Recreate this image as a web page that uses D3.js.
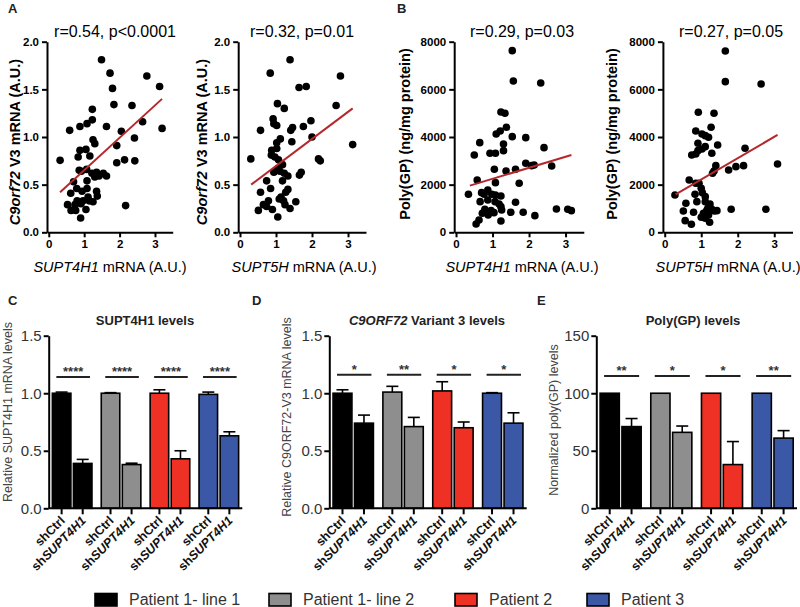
<!DOCTYPE html>
<html><head><meta charset="utf-8">
<script src="https://cdn.jsdelivr.net/npm/d3@7/dist/d3.min.js"></script>
<style>
body{margin:0;background:#fff;}
svg{display:block;font-family:'Liberation Sans',Arial,Helvetica,sans-serif;}
</style></head><body>
<svg id="chart" width="800" height="607"></svg>
<script>
// ---------- DATA ----------
const scatterA1 = [[0.32,0.755],[0.59,1.07],[0.88,1.11],[1.08,1.14],[1.49,1.81],[1.73,1.67],[1.80,1.51],[1.84,1.34],[2.77,1.64],[3.13,1.53],[3.20,1.09],[2.35,1.33],[2.65,1.16],[2.42,0.99],[2.05,1.06],[1.92,0.91],[1.92,0.73],[2.14,0.76],[2.43,0.75],[2.17,0.28],[1.63,1.11],[1.23,1.29],[1.23,1.18],[1.25,0.97],[1.30,0.93],[0.88,0.86],[1.05,0.87],[0.83,0.79],[1.16,0.80],[0.86,0.65],[0.92,0.64],[1.07,0.66],[1.22,0.62],[1.35,0.63],[1.30,0.58],[1.42,0.59],[1.54,0.62],[1.63,0.59],[0.70,0.53],[1.08,0.54],[0.79,0.46],[1.08,0.46],[0.62,0.41],[0.94,0.43],[1.35,0.43],[1.37,0.38],[1.11,0.37],[0.80,0.33],[0.97,0.33],[1.14,0.33],[1.25,0.32],[0.53,0.29],[0.74,0.29],[0.91,0.30],[0.63,0.23],[0.76,0.23],[1.05,0.24],[0.90,0.15]];
const scatterA2 = [[1.39,1.81],[0.84,1.67],[1.64,1.52],[1.84,1.53],[2.79,1.64],[2.67,1.33],[3.13,0.92],[1.04,1.35],[1.23,1.30],[0.57,1.07],[0.92,1.19],[0.94,1.14],[1.02,1.12],[1.46,1.10],[1.41,1.07],[1.76,1.11],[1.97,1.17],[2.00,1.00],[1.44,0.95],[1.12,0.98],[1.02,0.94],[1.02,0.88],[0.88,0.86],[0.87,0.81],[0.97,0.79],[1.07,0.76],[1.18,0.71],[1.05,0.67],[0.94,0.63],[1.11,0.64],[1.23,0.62],[1.33,0.59],[1.70,0.63],[1.65,0.60],[2.18,0.77],[2.23,0.75],[0.30,0.77],[0.74,0.54],[1.18,0.54],[0.85,0.46],[0.57,0.42],[1.33,0.45],[1.27,0.42],[1.14,0.37],[1.09,0.35],[1.21,0.33],[1.55,0.32],[0.79,0.33],[0.65,0.29],[0.74,0.27],[0.90,0.24],[0.51,0.23],[1.25,0.29],[1.39,0.25],[1.05,0.16]];
const scatterB1 = [[1.54,7625],[1.57,6351],[2.32,6268],[1.23,5050],[1.34,4994],[1.38,4407],[1.21,4253],[1.10,4127],[1.54,4015],[1.91,3973],[2.41,3553],[0.65,3763],[0.93,3315],[1.08,3315],[1.30,3707],[1.30,3427],[0.50,3245],[1.05,2644],[1.37,2574],[1.63,2644],[1.91,2896],[2.07,2798],[2.14,2826],[2.62,2784],[0.58,2196],[1.08,2084],[1.73,2056],[0.34,1595],[0.70,1665],[0.77,1595],[0.87,1777],[0.98,1595],[1.08,1567],[1.23,1525],[0.87,1357],[1.07,1287],[0.66,1287],[1.18,1189],[1.63,1259],[1.23,1077],[1.25,937],[0.79,965],[0.96,909],[0.72,797],[0.88,727],[1.04,825],[1.50,839],[1.84,839],[2.16,699],[2.75,979],[3.06,965],[3.16,909],[1.23,476],[0.63,518],[0.55,350]];
const scatterB2 = [[1.66,7610],[1.66,6323],[2.64,6226],[0.92,5036],[1.35,4994],[1.27,4407],[0.85,4253],[1.02,4127],[1.11,4057],[1.20,3987],[0.91,3735],[1.45,3665],[1.11,3595],[1.02,3497],[0.91,3427],[1.29,3315],[0.74,3245],[0.85,3287],[2.20,3525],[1.40,2798],[1.35,2574],[1.31,2476],[1.75,2616],[1.95,2756],[2.16,2798],[3.09,2868],[0.67,2196],[0.85,2056],[0.94,2056],[1.00,1847],[1.03,1665],[0.28,1567],[0.83,1595],[1.11,1497],[0.88,1287],[0.58,1217],[1.11,1287],[1.24,1189],[1.18,1007],[1.29,965],[1.36,895],[1.43,909],[0.51,895],[0.79,839],[1.06,797],[1.20,727],[1.00,629],[1.11,587],[1.23,420],[0.56,490],[0.73,336],[1.82,965],[2.77,965],[1.15,909]];
const fitA1 = [[0.32,0.42],[3.20,1.40]];
const fitA2 = [[0.31,0.50],[3.13,1.30]];
const fitB1 = [[0.38,1959],[3.16,3246]];
const fitB2 = [[0.30,1595],[3.09,4085]];
const statsA1 = "r=0.54, p<0.0001";
const statsA2 = "r=0.32, p=0.01";
const statsB1 = "r=0.29, p=0.03";
const statsB2 = "r=0.27, p=0.05";
const xTicksScatter = [0,1,2,3];
const yTicksA = [0,0.5,1.0,1.5,2.0];
const yTicksB = [0,2000,4000,6000,8000];

const groups = ["Patient 1- line 1","Patient 1- line 2","Patient 2","Patient 3"];
const groupColors = ["#000000","#8e8e8e","#ee3124","#3b58a6"];
const conditions = ["shCtrl","shSUPT4H1"];
const meansC = [[1.00,0.39],[1.00,0.38],[1.00,0.43],[0.99,0.63]];
const errsC  = [[0.01,0.035],[0.005,0.012],[0.03,0.07],[0.02,0.035]];
const starsC = ["****","****","****","****"];
const sigC = 1.14;
const meansD = [[1.00,0.74],[1.01,0.71],[1.02,0.70],[1.00,0.74]];
const errsD  = [[0.03,0.07],[0.05,0.08],[0.08,0.05],[0.005,0.09]];
const starsD = ["*","**","*","*"];
const sigD = 1.16;
const meansE = [[100,71],[100,66],[100,38],[100,61]];
const errsE  = [[0,7],[0,5.5],[0,20],[0,6.5]];
const starsE = ["**","*","*","**"];
const sigE = 115;
const yTicksCD = [0,0.5,1.0,1.5];
const yTicksE = [0,50,100,150];

// ---------- DRAW ----------
const svg = d3.select("#chart");
svg.append("rect").attr("width",800).attr("height",607).attr("fill","#fff");

function richText(sel, parts){
  parts.forEach(p=>{
    sel.append("tspan").text(p.t).attr("font-style",p.i?"italic":null);
  });
  return sel;
}

function scatter(o){
  const g = svg.append("g");
  const x = d3.scaleLinear().domain([-0.05,3.5]).range(o.xr);
  const y = d3.scaleLinear().domain([0,o.yMax]).range([232.3,41.7]);
  const xa = g.append("g").attr("transform",`translate(0,${y(0)})`)
    .call(d3.axisBottom(x).tickValues(xTicksScatter).tickFormat(d3.format("d")).tickSize(5).tickSizeOuter(0).tickPadding(3));
  const ya = g.append("g").attr("transform",`translate(${x(-0.05)},0)`)
    .call(d3.axisLeft(y).tickValues(o.yTicks).tickFormat(o.fmt).tickSize(5).tickSizeOuter(0).tickPadding(3));
  [xa,ya].forEach(a=>{
    a.select(".domain").attr("stroke","#000").attr("stroke-width",2);
    a.selectAll(".tick line").attr("stroke","#000").attr("stroke-width",2);
    a.selectAll(".tick text").attr("fill","#000").attr("font-size",11.5).attr("font-weight","bold")
      .attr("font-family","'Liberation Sans',Arial,sans-serif");
  });
  g.selectAll("circle.pt").data(o.data).join("circle")
    .attr("cx",d=>x(d[0])).attr("cy",d=>y(d[1])).attr("r",3.8).attr("fill","#000");
  g.append("line").attr("x1",x(o.fit[0][0])).attr("y1",y(o.fit[0][1]))
    .attr("x2",x(o.fit[1][0])).attr("y2",y(o.fit[1][1]))
    .attr("stroke","#b4282b").attr("stroke-width",2);
  g.append("text").attr("x",o.titleX).attr("y",37).attr("text-anchor","middle")
    .attr("font-size",16).attr("fill","#000").text(o.title);
  richText(g.append("text").attr("x",o.xLabelX).attr("y",272).attr("text-anchor","middle")
    .attr("font-size",14.5).attr("fill","#000"), o.xLabel);
  richText(g.append("text").attr("transform",`translate(${o.yLabelX},${o.yLabelCY}) rotate(-90)`)
    .attr("text-anchor","middle").attr("dy","0.35em")
    .attr("font-size",o.yLabelSize).attr("font-weight","bold").attr("fill","#000"), o.yLabel);
}

const fmtA = d3.format(".1f"), fmtB = d3.format("d");
const labA = [{t:"C9orf72",i:true},{t:" V3 mRNA (A.U.)"}];
const labB = [{t:"Poly(GP) (ng/mg protein)"}];
scatter({data:scatterA1,fit:fitA1,xr:[47,172.7],yMax:2,yTicks:yTicksA,fmt:fmtA,title:statsA1,titleX:115,
  xLabel:[{t:"SUPT4H1",i:true},{t:" mRNA (A.U.)"}],xLabelX:110,yLabel:labA,yLabelX:15,yLabelCY:142,yLabelSize:14.5});
scatter({data:scatterA2,fit:fitA2,xr:[238.2,366],yMax:2,yTicks:yTicksA,fmt:fmtA,title:statsA2,titleX:302,
  xLabel:[{t:"SUPT5H",i:true},{t:" mRNA (A.U.)"}],xLabelX:304,yLabel:labA,yLabelX:202,yLabelCY:142,yLabelSize:14.5});
scatter({data:scatterB1,fit:fitB1,xr:[454.2,583.8],yMax:8000,yTicks:yTicksB,fmt:fmtB,title:statsB1,titleX:522,
  xLabel:[{t:"SUPT4H1",i:true},{t:" mRNA (A.U.)"}],xLabelX:522,yLabel:labB,yLabelX:405,yLabelCY:134,yLabelSize:14.5});
scatter({data:scatterB2,fit:fitB2,xr:[662.9,792.5],yMax:8000,yTicks:yTicksB,fmt:fmtB,title:statsB2,titleX:731,
  xLabel:[{t:"SUPT5H",i:true},{t:" mRNA (A.U.)"}],xLabelX:728,yLabel:labB,yLabelX:612,yLabelCY:134,yLabelSize:14.5});

function barPanel(o){
  const g = svg.append("g");
  const y = d3.scaleLinear().domain([0,o.yMax]).range([508.3,335.7]);
  const xg = d3.scaleBand().domain(groups).range(o.xr).paddingInner(0.19).paddingOuter(0.075);
  const xi = d3.scaleBand().domain(conditions).range([0,xg.bandwidth()]).paddingInner(0.12);
  const ya = g.append("g").attr("transform",`translate(${o.xr[0]},0)`)
    .call(d3.axisLeft(y).tickValues(o.yTicks).tickFormat(o.fmt).tickSize(5).tickSizeOuter(0).tickPadding(2));
  ya.select(".domain").attr("stroke","#000").attr("stroke-width",2);
  ya.selectAll(".tick line").attr("stroke","#000").attr("stroke-width",2);
  ya.selectAll(".tick text").attr("fill","#333").attr("font-size",15)
    .attr("font-family","'Liberation Sans',Arial,sans-serif");
  const recs = [];
  groups.forEach((gr,gi)=>conditions.forEach((c,ci)=>recs.push({gr,gi,c,ci,m:o.means[gi][ci],e:o.errs[gi][ci]})));
  const cx = d=>xg(d.gr)+xi(d.c)+xi.bandwidth()/2;
  const eb = g.selectAll("g.eb").data(recs.filter(d=>d.e>0)).join("g");
  eb.append("line").attr("x1",cx).attr("x2",cx).attr("y1",d=>y(d.m)).attr("y2",d=>y(d.m+d.e))
    .attr("stroke","#000").attr("stroke-width",1.6);
  eb.append("line").attr("x1",d=>cx(d)-6).attr("x2",d=>cx(d)+6).attr("y1",d=>y(d.m+d.e)).attr("y2",d=>y(d.m+d.e))
    .attr("stroke","#000").attr("stroke-width",1.6);
  g.selectAll("rect.bar").data(recs).join("rect")
    .attr("x",d=>xg(d.gr)+xi(d.c)).attr("width",xi.bandwidth())
    .attr("y",d=>y(d.m)).attr("height",d=>y(0)-y(d.m))
    .attr("fill",d=>groupColors[d.gi]).attr("stroke","#000").attr("stroke-width",1.6);
  g.append("line").attr("x1",o.xr[0]).attr("x2",o.xr[1]).attr("y1",y(0)).attr("y2",y(0))
    .attr("stroke","#000").attr("stroke-width",2);
  g.selectAll("line.tk").data(recs).join("line").attr("x1",cx).attr("x2",cx)
    .attr("y1",y(0)).attr("y2",y(0)+6).attr("stroke","#000").attr("stroke-width",2);
  recs.forEach(d=>{
    const t = g.append("text").attr("transform",`translate(${cx(d)+4},${y(0)+13}) rotate(-45)`)
      .attr("text-anchor","end").attr("font-size",12.5).attr("font-weight","bold").attr("fill","#111");
    if(d.ci===0) richText(t,[{t:d.c}]);
    else richText(t,[{t:"sh"},{t:d.c.slice(2),i:true}]);
  });
  groups.forEach((gr,gi)=>{
    const x0 = xg(gr)+4, x1 = xg(gr)+xg.bandwidth()-2;
    g.append("line").attr("x1",x0).attr("x2",x1).attr("y1",y(o.sig)).attr("y2",y(o.sig))
      .attr("stroke","#222").attr("stroke-width",2);
    g.append("text").attr("x",(x0+x1)/2).attr("y",y(o.sig)-1).attr("text-anchor","middle")
      .attr("font-size",13).attr("font-weight","bold").attr("fill","#333").text(o.stars[gi]);
  });
  richText(g.append("text").attr("x",o.titleX).attr("y",325).attr("text-anchor","middle")
    .attr("font-size",13).attr("font-weight","bold").attr("fill","#222"), o.title);
  g.append("text").attr("transform",`translate(${o.yLabelX},${o.yLabelCY}) rotate(-90)`)
    .attr("text-anchor","middle").attr("dy","0.35em").attr("font-size",12.5).attr("fill","#444").text(o.yLabel);
}

barPanel({means:meansC,errs:errsC,stars:starsC,sig:sigC,yMax:1.5,yTicks:yTicksCD,fmt:d3.format(".1f"),
  xr:[48.7,242.3],title:[{t:"SUPT4H1 levels"}],titleX:145,yLabel:"Relative SUPT4H1 mRNA levels",yLabelX:8,yLabelCY:412});
barPanel({means:meansD,errs:errsD,stars:starsD,sig:sigD,yMax:1.5,yTicks:yTicksCD,fmt:d3.format(".1f"),
  xr:[329.3,526.7],title:[{t:"C9ORF72",i:true},{t:" Variant 3 levels"}],titleX:427,yLabel:"Relative C9ORF72-V3 mRNA levels",yLabelX:287,yLabelCY:417});
barPanel({means:meansE,errs:errsE,stars:starsE,sig:sigE,yMax:150,yTicks:yTicksE,fmt:d3.format("d"),
  xr:[596.3,797],title:[{t:"Poly(GP) levels"}],titleX:693,yLabel:"Normalized poly(GP) levels",yLabelX:554,yLabelCY:420});

[["A",8,13],["B",397,13],["C",8,305],["D",252,305],["E",537,305]].forEach(([l,x,yy])=>{
  svg.append("text").attr("x",x).attr("y",yy).attr("font-size",13).attr("font-weight","bold").attr("fill","#222").text(l);
});

const legendX = [95,269,455,587];
groups.forEach((gr,i)=>{
  svg.append("rect").attr("x",legendX[i]).attr("y",593.5).attr("width",22).attr("height",12.5)
    .attr("fill",groupColors[i]).attr("stroke","#000").attr("stroke-width",1.6);
  svg.append("text").attr("x",legendX[i]+34).attr("y",605).attr("font-size",16).attr("fill","#333").text(gr);
});
</script></body></html>
